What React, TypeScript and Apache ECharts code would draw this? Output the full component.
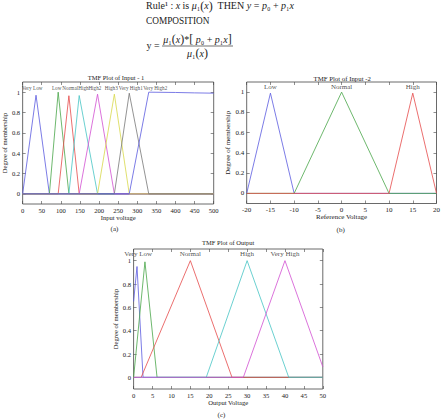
import React, { useEffect, useRef } from "react";
import * as echarts from "echarts";

const FONT = "'Liberation Serif', 'Times New Roman', serif";

// ---------- Panel (a): TMF Plot of Input - 1 ----------
const in1Names = ["Very Low", "Low", "Normal", "High", "High2", "High3", "Very High1", "Very High2"];
const in1LabelX = [25, 89, 124.5, 159, 189, 232, 283, 347];
const in1VeryLow = [[0, 0], [35, 0.97], [70, 0], [500, 0]];
const in1Low = [[0, 0], [70, 0], [93, 1.0], [121, 0], [500, 0]];
const in1Normal = [[0, 0], [93, 0], [121, 0.965], [148, 0], [500, 0]];
const in1High = [[0, 0], [121, 0], [148, 0.967], [196, 0], [500, 0]];
const in1High2 = [[0, 0], [148, 0], [196, 0.98], [240, 0], [500, 0]];
const in1High3 = [[0, 0], [196, 0], [240, 0.98], [279, 0], [500, 0]];
const in1VeryHigh1 = [[0, 0], [240, 0], [279, 0.99], [330, 0], [500, 0]];
const in1VeryHigh2 = [[0, 0], [279, 0], [330, 1.0], [400, 0.997], [450, 0.993], [500, 0.99]];

// ---------- Panel (b): TMF Plot of Input -2 ----------
const in2Names = ["Low", "Normal", "High"];
const in2LabelX = [-15, 0, 15];
const in2Low = [[-20, 0], [-15, 0.99], [-10, 0], [20, 0]];
const in2Normal = [[-20, 0], [-10, 0], [0, 1.0], [10, 0], [20, 0]];
const in2High = [[-20, 0], [10, 0], [15, 0.99], [20, 0]];

// ---------- Panel (c): TMF Plot of Output ----------
const outNames = ["Very Low", "Normal", "High", "Very High"];
const outLabelX = [1.2, 15, 30, 40];
const outVeryLow = [[0, 0.65], [0.9, 0.95], [2.5, 0], [50, 0]];
const outLow = [[0, 0], [3, 0.99], [6.2, 0], [50, 0]];
const outNormal = [[0, 0], [2, 0], [15, 1.0], [26, 0], [50, 0]];
const outHigh = [[0, 0], [19.2, 0], [30, 1.0], [41, 0], [50, 0]];
const outVeryHigh = [[0, 0], [29, 0], [40, 1.0], [50, 0.09]];

const yTickValues = [0, 0.2, 0.4, 0.6, 0.8, 1];

const C_BLUE = "#5a5ae0";
const C_GREEN = "#49a649";
const C_RED = "#e64a4a";
const C_CYAN = "#45c4c4";
const C_MAGENTA = "#d24fd2";
const C_YELLOW = "#d8d84a";
const C_GREY = "#777777";
const AXIS = "#444444";
const TXT = "#222222";

function lineSeries(data: number[][], color: string, idx: number) {
  return {
    type: "line",
    xAxisIndex: idx,
    yAxisIndex: idx,
    data,
    symbol: "none",
    lineStyle: { color, width: 0.8 },
    itemStyle: { color },
    silent: true,
  };
}

function labelSeries(names: string[], xs: number[], y: number, idx: number, size: number) {
  return {
    type: "scatter",
    xAxisIndex: idx,
    yAxisIndex: idx,
    symbolSize: 0,
    silent: true,
    data: names.map((n, i) => ({ value: [xs[i], y], name: n })),
    label: {
      show: true,
      position: "inside",
      formatter: (p: any) => p.name,
      color: TXT,
      fontFamily: FONT,
      fontSize: size,
    },
    z: 10,
  };
}

const noLine = { show: false, onZero: false };

function bottomAxis(idx: number, min: number, max: number, interval: number, name: string, fs: number, gap: number) {
  return {
    type: "value",
    gridIndex: idx,
    min,
    max,
    interval,
    position: "bottom",
    name,
    nameLocation: "middle",
    nameGap: gap,
    nameTextStyle: { color: TXT, fontFamily: FONT, fontSize: fs },
    axisLine: noLine,
    axisTick: { show: true, inside: true, length: 3, lineStyle: { color: AXIS, width: 0.6 } },
    axisLabel: { color: TXT, fontFamily: FONT, fontSize: fs, margin: 2.5 },
    splitLine: { show: false },
  };
}

function topAxis(idx: number, min: number, max: number, interval: number) {
  return {
    type: "value",
    gridIndex: idx,
    min,
    max,
    interval,
    position: "top",
    axisLine: noLine,
    axisTick: { show: true, inside: true, length: 3, lineStyle: { color: AXIS, width: 0.6 } },
    axisLabel: { show: false },
    splitLine: { show: false },
  };
}

function leftAxis(idx: number, fs: number, gap: number) {
  return {
    type: "value",
    gridIndex: idx,
    min: -0.1,
    max: 1.1,
    position: "left",
    name: "Degree of membership",
    nameLocation: "middle",
    nameGap: gap,
    nameTextStyle: { color: TXT, fontFamily: FONT, fontSize: fs },
    axisLine: noLine,
    axisTick: { show: true, inside: true, length: 3, customValues: yTickValues, lineStyle: { color: AXIS, width: 0.6 } },
    axisLabel: { color: TXT, fontFamily: FONT, fontSize: fs, margin: 2.5, customValues: yTickValues },
    splitLine: { show: false },
  };
}

function rightAxis(idx: number) {
  return {
    type: "value",
    gridIndex: idx,
    min: -0.1,
    max: 1.1,
    position: "right",
    axisLine: noLine,
    axisTick: { show: true, inside: true, length: 3, customValues: yTickValues, lineStyle: { color: AXIS, width: 0.6 } },
    axisLabel: { show: false, customValues: yTickValues },
    splitLine: { show: false },
  };
}

function txt(x: number, y: number, text: string, size: number, align = "center") {
  return {
    type: "text",
    x,
    y,
    silent: true,
    style: {
      text,
      fill: TXT,
      fontFamily: FONT,
      fontSize: size,
      textAlign: align,
      textVerticalAlign: "middle",
    },
  };
}

const richStyles = {
  n: { fontFamily: FONT, fontSize: 10, fill: TXT },
  i: { fontFamily: FONT, fontSize: 10, fontStyle: "italic", fill: TXT },
  b: { fontFamily: FONT, fontSize: 12, fill: TXT },
};

export default function App() {
  const ref = useRef<HTMLDivElement>(null);

  useEffect(() => {
    if (!ref.current) return;
    const chart = echarts.init(ref.current, undefined, { renderer: "svg" });

    const gridStyle = { show: true, borderColor: AXIS, borderWidth: 0.8, backgroundColor: "transparent" };

    const option: any = {
      animation: false,
      backgroundColor: "#ffffff",
      grid: [
        { left: 18.3, top: 82, width: 195.4, height: 122, ...gridStyle },
        { left: 246.7, top: 82, width: 191, height: 121.5, ...gridStyle },
        { left: 133.6, top: 249, width: 189.2, height: 140, ...gridStyle },
      ],
      xAxis: [
        bottomAxis(0, 0, 500, 50, "Input voltage", 6.6, 8),
        bottomAxis(1, -20, 20, 5, "Reference Voltage", 7, 8.5),
        bottomAxis(2, 0, 50, 5, "Output Voltage", 6.6, 8.5),
        topAxis(0, 0, 500, 50),
        topAxis(1, -20, 20, 5),
        topAxis(2, 0, 50, 5),
      ],
      yAxis: [
        leftAxis(0, 6.6, 14.5),
        leftAxis(1, 7, 15),
        leftAxis(2, 6.6, 12),
        rightAxis(0),
        rightAxis(1),
        rightAxis(2),
      ],
      series: [
        lineSeries(in1VeryLow, C_BLUE, 0),
        lineSeries(in1Low, C_GREEN, 0),
        lineSeries(in1Normal, C_RED, 0),
        lineSeries(in1High, C_CYAN, 0),
        lineSeries(in1High2, C_MAGENTA, 0),
        lineSeries(in1High3, C_YELLOW, 0),
        lineSeries(in1VeryHigh1, C_GREY, 0),
        lineSeries(in1VeryHigh2, C_BLUE, 0),
        labelSeries(in1Names, in1LabelX, 1.045, 0, 5.2),

        lineSeries(in2Low, C_BLUE, 1),
        lineSeries(in2Normal, C_GREEN, 1),
        lineSeries(in2High, C_RED, 1),
        labelSeries(in2Names, in2LabelX, 1.05, 1, 7),

        lineSeries(outVeryLow, C_BLUE, 2),
        lineSeries(outLow, C_GREEN, 2),
        lineSeries(outNormal, C_RED, 2),
        lineSeries(outHigh, C_CYAN, 2),
        lineSeries(outVeryHigh, C_MAGENTA, 2),
        labelSeries(outNames, outLabelX, 1.055, 2, 7),
      ],
      graphic: [
        {
          type: "text",
          x: 146,
          y: 5.5,
          silent: true,
          style: {
            text: "{n|Rule¹ : }{i|x}{n| is }{i|μ}{n|₁}{b|(}{i|x}{b|)}{n|  THEN }{i|y}{n| = }{i|p}{n|₀ + }{i|p}{n|₁}{i|x}",
            textVerticalAlign: "middle",
            rich: richStyles,
          },
        },
        txt(146, 20.5, "COMPOSITION", 9.3, "left"),
        {
          type: "text",
          x: 146.5,
          y: 45.5,
          silent: true,
          style: {
            text: "{n|y =}",
            textVerticalAlign: "middle",
            rich: richStyles,
          },
        },
        {
          type: "text",
          x: 197.5,
          y: 39,
          silent: true,
          style: {
            text: "{i|μ}{n|₁}{b|(}{i|x}{b|)}{n|*}{b|[}{i| p}{n|₀ + }{i|p}{n|₁}{i|x}{b|]}",
            textAlign: "center",
            textVerticalAlign: "middle",
            rich: richStyles,
          },
        },
        {
          type: "line",
          silent: true,
          shape: { x1: 162, y1: 46, x2: 233, y2: 46 },
          style: { stroke: "#333", lineWidth: 0.7 },
        },
        {
          type: "text",
          x: 197.5,
          y: 53,
          silent: true,
          style: {
            text: "{i|μ}{n|₁}{b|(}{i|x}{b|)}",
            textAlign: "center",
            textVerticalAlign: "middle",
            rich: richStyles,
          },
        },
        txt(116, 77, "TMF Plot of Input - 1", 6.5),
        txt(342.2, 78.5, "TMF Plot of Input -2", 6.8),
        txt(228.2, 242, "TMF Plot of Output", 6.5),
        txt(114.5, 229.3, "(a)", 7),
        txt(340.7, 229.5, "(b)", 7),
        txt(221.5, 414.5, "(c)", 7),
      ],
    };

    chart.setOption(option);
    return () => {
      chart.dispose();
    };
  }, []);

  return (
    <div
      ref={ref}
      style={{ position: "absolute", left: 0, top: 0, width: 443, height: 420, background: "#fff" }}
    />
  );
}
